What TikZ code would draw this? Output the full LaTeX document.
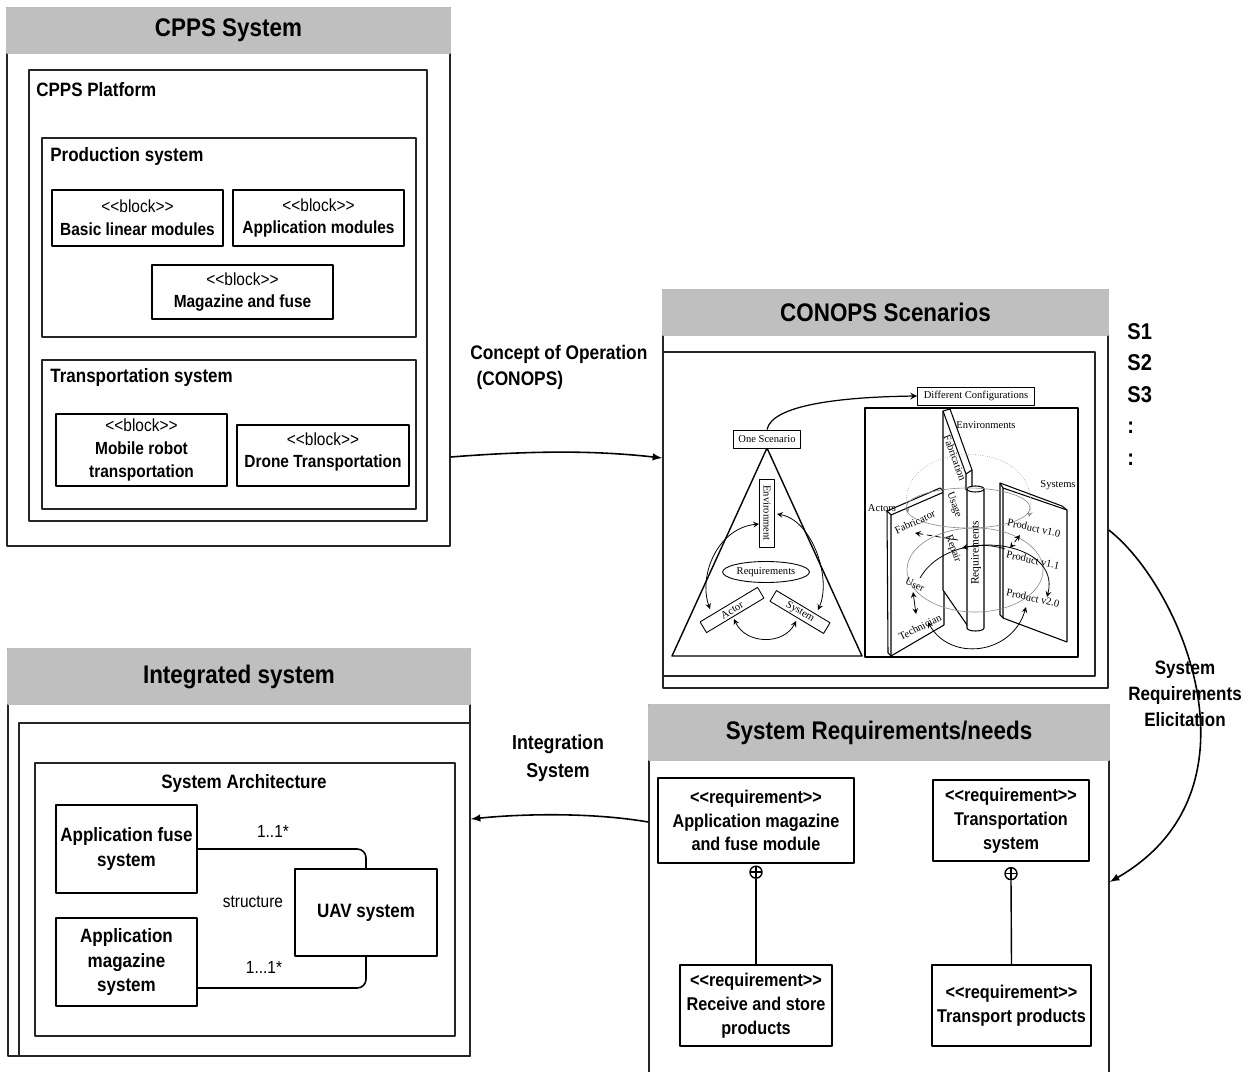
\documentclass[tikz,border=0pt]{standalone}
\usepackage{fontspec}
\setmainfont[FakeStretch=0.88]{Liberation Sans}
\newfontfamily\imgfont{Liberation Serif}
\usetikzlibrary{fit, positioning, shapes.geometric, arrows}

\newcommand{\stereo}[1]{<{}<#1>{}>}
\newcommand{\fsz}[2]{\fontsize{#1}{#2}\selectfont}

\begin{document}
\begin{tikzpicture}[x=0.02cm, y=-0.02cm, line join=round,
    frame/.style={draw=black!85, line width=0.8pt, inner sep=0pt},
    head/.style={fill=black!25, draw=black!25, line width=0.8pt, inner sep=0pt},
    htxt/.style={inner sep=0pt, font=\bfseries\fsz{14.5}{16}},
    sect/.style={anchor=west, inner sep=0pt, font=\bfseries\fsz{11}{13}},
    blk/.style={draw, line width=0.7pt, inner sep=0pt},
    btxt/.style={inner sep=0pt, align=center, font=\fsz{10}{13}},
    req/.style={draw, line width=0.8pt, inner sep=0pt},
    rtxt/.style={inner sep=0pt, align=center, font=\bfseries\fsz{10.5}{13.6}},
    part/.style={draw, line width=0.9pt, inner sep=0pt},
    ptxt/.style={inner sep=0pt, align=center, font=\bfseries\fsz{11}{14}},
    lbl/.style={align=center, inner sep=0pt, font=\bfseries\fsz{11.2}{15}},
    note/.style={inner sep=0pt, font=\fsz{10}{12}},
    flow/.style={-latex, line width=0.9pt},
    contain/.style={circle, draw, line width=0.8pt, minimum size=0.24cm, inner sep=0pt,
        path picture={\draw[line width=0.8pt]
            (path picture bounding box.north) -- (path picture bounding box.south)
            (path picture bounding box.west) -- (path picture bounding box.east);}},
    ibox/.style={draw, line width=0.5pt, fill=white, inner sep=0.8pt, font=\imgfont\fsz{6}{7}},
    itxt/.style={inner sep=0pt, font=\imgfont\fsz{6}{7}},
    ring/.style={black!45, line width=0.35pt},
    tip/.style={line width=0.45pt, >=stealth},
    plate/.style={draw, line width=0.6pt, fill=white}]
    \useasboundingbox (0,0) rectangle (1250,1071);

    % CPPS system
    \node[frame, fit={(7,8) (450,546)}] (cpps) {};
    \node[head, fit={(7,8) (450,53)}] (cppsHead) {};
    \node[htxt] (cppsTitle) at (cppsHead) {CPPS System};
    \node[frame, fit={(29,70) (427,521)}] (platform) {};
    \node[sect] (platformLbl) at (36,90) {CPPS Platform};
    \node[frame, fit={(42,138) (416,337)}] (prod) {};
    \node[sect] (prodLbl) at (50,157) {Production system};
    \node[blk, fit={(52,190) (223,246)}] (linear) {};
    \node[btxt] (linearTxt) at (linear) {\stereo{block}\\\textbf{Basic linear modules}};
    \node[blk, fit={(233,190) (404,246)}] (appmod) {};
    \node[btxt] (appmodTxt) at (appmod) {\stereo{block}\\\textbf{Application modules}};
    \node[blk, fit={(152,265) (333,319)}] (magfuse) {};
    \node[btxt] (magfuseTxt) at (magfuse) {\stereo{block}\\\textbf{Magazine and fuse}};
    \node[frame, fit={(42,360) (416,509)}] (trans) {};
    \node[sect] (transLbl) at (50,378) {Transportation system};
    \node[blk, fit={(56,414) (227,486)}] (robot) {};
    \node[btxt] (robotTxt) at (robot) {\stereo{block}\\\textbf{Mobile robot}\\\textbf{transportation}};
    \node[blk, fit={(237,425) (409,486)}] (drone) {};
    \node[btxt] (droneTxt) at (323,452) {\stereo{block}\\\textbf{Drone Transportation}};

    % CONOPS scenarios
    \node[frame, fit={(663,290) (1108,688)}] (conops) {};
    \node[head, fit={(663,290) (1108,335)}] (conopsHead) {};
    \node[htxt] (conopsTitle) at (conopsHead) {CONOPS Scenarios};
    \node[frame, fit={(663,352) (1095,676)}] (conopsIn) {};
    \node[anchor=north west, inner sep=0pt, align=left, font=\bfseries\fsz{13}{17.9}] (slist) at (1127,323) {S1\\S2\\S3\\:\\:};

    % one scenario
    \draw[line width=0.8pt] (767,448) -- (672,656) -- (862,656) -- cycle;
    \node[ibox, minimum width=1.34cm, minimum height=0.36cm] (one) at (767,439) {One Scenario};
    \node[ibox, rotate=-90, minimum width=1.36cm, minimum height=0.3cm] (env) at (767,513) {Environment};
    \node[ibox, ellipse, minimum width=1.4cm, minimum height=0.42cm] (reqs) at (766,572) {Requirements};
    \node[ibox, rotate=31, minimum width=1.34cm, minimum height=0.25cm] (actor) at (732,610) {Actor};
    \node[ibox, rotate=-31, minimum width=1.25cm, minimum height=0.25cm] (sys) at (800,612) {System};
    \draw[tip, <->] (759,524) .. controls (718,528) and (698,575) .. (710,609);
    \draw[tip, <->] (777,514) .. controls (812,520) and (832,578) .. (818,610);
    \draw[tip, <->] (734,619) .. controls (746,645) and (784,645) .. (796,621);

    % different configurations
    \node[ibox, minimum width=2.34cm, minimum height=0.36cm] (diffc) at (976,396) {Different Configurations};
    \draw[tip, ->, line width=0.7pt] (one.north) .. controls (772,405) and (840,397) .. (diffc.west);
    \draw[line width=0.8pt] (865,408) rectangle (1078,657);
    \draw[plate] (887,511) -- (940,488) -- (944,492) -- (944,625) -- (891,656) -- (888,653) -- cycle;
    \draw[line width=0.6pt] (887,511) -- (891,515) -- (944,492) (891,515) -- (891,656);
    \draw[plate] (1000,483) -- (1062,506) -- (1067,510) -- (1067,642) -- (1003,618) -- (1000,615) -- cycle;
    \draw[line width=0.6pt] (1000,483) -- (1003,488) -- (1067,510) (1003,488) -- (1003,618);
    \draw[plate] (943,411) -- (950,409) -- (972,470) -- (972,630) -- (967,625) -- (943,590) -- cycle;
    \draw[line width=0.6pt] (943,411) -- (966,474) -- (966,490) (966,474) -- (972,470);
    \draw[plate] (967,489) -- (967,628) arc[start angle=180, end angle=0, x radius=8.5, y radius=3] -- (984,489);
    \draw[plate] (975.5,489) ellipse [x radius=8.5, y radius=3];
    \draw[ring, densely dotted, <->, >=stealth] (908,513) .. controls (893,438) and (1045,433) .. (1029,517);
    \draw[ring] (968,508) ellipse [x radius=62, y radius=20];
    \draw[ring] (975,570) ellipse [x radius=68, y radius=42];
    \draw[tip, ->] (1005,549) .. controls (990,544) and (975,545) .. (962,548);
    \draw[tip, densely dashed, ->] (958,540) -- (915,533);
    \draw[tip, <->] (928,622) .. controls (950,662) and (1012,655) .. (1026,607);
    \draw[tip, ->] (920,578) .. controls (950,525) and (1062,540) .. (1047,597);
    \draw[tip, <->] (913,592) -- (916,614);
    \draw[tip, densely dashed, <->] (1020,535) -- (1010,548);
    \node[itxt] (envsLbl) at (986,425) {Environments};
    \node[itxt] (sysLbl) at (1058,485) {Systems};
    \node[itxt] (actLbl) at (882,508) {Actors};
    \node[itxt, rotate=-70] (fabn) at (955,458) {Fabrication};
    \node[itxt, rotate=-70] (usage) at (954,505) {Usage};
    \node[itxt, rotate=-70] (repair) at (953,549) {Repair};
    \node[itxt, rotate=90, font=\imgfont\fsz{6.5}{7}] (reqTxt) at (976,553) {Requirements};
    \node[itxt, rotate=25] (fabr) at (915,522) {Fabricator};
    \node[itxt, rotate=-25] (user) at (915,585) {User};
    \node[itxt, rotate=27] (tech) at (920,627) {Technician};
    \node[itxt, rotate=-12] (p10) at (1034,528) {Product v1.0};
    \node[itxt, rotate=-12] (p11) at (1033,560) {Product v1.1};
    \node[itxt, rotate=-12] (p20) at (1033,598) {Product v2.0};

    % system requirements
    \node[frame, fit={(649,705) (1109,1080)}] (sysreq) {};
    \node[head, fit={(649,705) (1109,760)}] (sysreqHead) {};
    \node[htxt] (sysreqTitle) at (sysreqHead) {System Requirements/needs};
    \node[req, fit={(658,778) (854,863)}] (appmag) {};
    \node[rtxt] (appmagTxt) at (appmag) {\stereo{requirement}\\Application magazine\\and fuse module};
    \node[req, fit={(933,780) (1089,861)}] (transys) {};
    \node[rtxt] (transysTxt) at (transys) {\stereo{requirement}\\Transportation\\system};
    \node[req, fit={(680,965) (832,1046)}] (recv) {};
    \node[rtxt] (recvTxt) at (recv) {\stereo{requirement}\\Receive and store\\products};
    \node[req, fit={(932,965) (1091,1046)}] (tprod) {};
    \node[rtxt] (tprodTxt) at (tprod) {\stereo{requirement}\\Transport products};
    \node[contain, below=1pt of appmag] (plus1) {};
    \node[contain, below=3pt of transys] (plus2) {};
    \draw[line width=0.8pt] (plus1.south) -- (recv.north);
    \draw[line width=0.8pt] (plus2.south) -- (tprod.north);

    % integrated system
    \node[frame, fit={(8,649) (470,1056)}] (integ) {};
    \node[head, fit={(8,649) (470,704)}] (integHead) {};
    \node[htxt] (integTitle) at (integHead) {Integrated system};
    \node[frame, fit={(19,723) (470,1056)}] (integIn) {};
    \node[frame, line width=1pt, fit={(35,763) (455,1036)}] (arch) {};
    \node[inner sep=0pt, font=\bfseries\fsz{11}{13}] (archLbl) at (244,783) {System Architecture};
    \node[part, fit={(56,805) (197,893)}] (afuse) {};
    \node[ptxt] (afuseTxt) at (afuse) {Application fuse\\system};
    \node[part, fit={(56,918) (197,1006)}] (amag) {};
    \node[ptxt] (amagTxt) at (amag) {Application\\magazine\\system};
    \node[part, fit={(295,869) (437,956)}] (uav) {};
    \node[ptxt] (uavTxt) at (uav) {UAV system};
    \draw[line width=0.9pt, rounded corners=5pt] (afuse.east) -| (uav.north);
    \draw[line width=0.9pt, rounded corners=5pt] (amag.east |- 0,988) -| (uav.south);
    \node[note] (mult1) at (273,831) {1..1*};
    \node[note] (mult2) at (264,967) {1...1*};
    \node[note] (structLbl) at (253,902) {structure};

    % flows between the views
    \draw[flow] (cpps.east |- 0,457) .. controls (540,450) and (600,451) .. (conops.west |- 0,458);
    \node[lbl, anchor=north west, align=left] (conopsLbl) at (470,345) {Concept of Operation\\\hspace{3.5pt}(CONOPS)};
    \draw[flow] (conops.east |- 0,530) .. controls (1180,585) and (1270,790) .. (sysreq.east |- 0,882);
    \node[lbl, font=\bfseries\fsz{11}{14.7}] (elicLbl) at (1185,694) {System\\Requirements\\Elicitation};
    \draw[flow] (sysreq.west |- 0,822) .. controls (590,812) and (520,814) .. (integ.east |- 0,819);
    \node[lbl, font=\bfseries\fsz{11.5}{15.9}] (integLbl) at (558,758) {Integration\\System};
\end{tikzpicture}
\end{document}
